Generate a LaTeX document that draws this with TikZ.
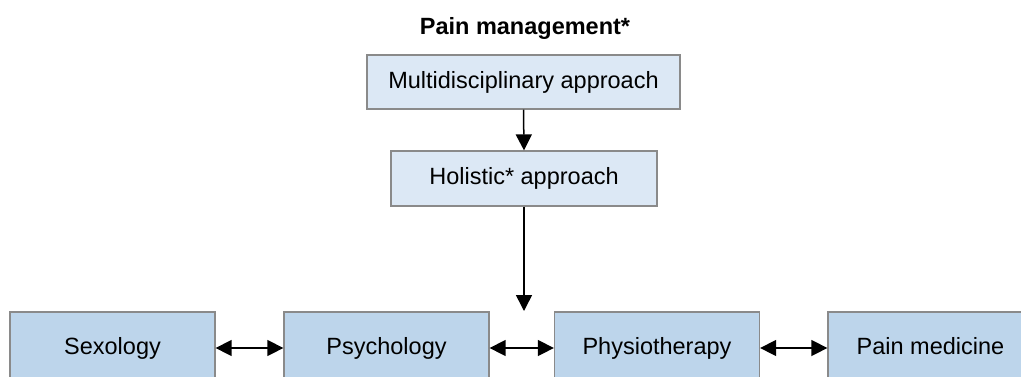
\documentclass[tikz,border=0pt]{standalone}
\usepackage{fontspec}
\setmainfont{Liberation Sans}
\usetikzlibrary{arrows.meta}
\definecolor{toplight}{HTML}{DCE8F5}
\definecolor{botblue}{HTML}{BDD5EB}
\definecolor{edgegray}{HTML}{8A8A8A}
\begin{document}
\begin{tikzpicture}[x=1pt,y=-1pt,
  every node/.style={font=\fontsize{23.5}{28}\selectfont, inner sep=0pt,
    text height=17pt, text depth=5pt},
  upperbox/.style={draw=edgegray, line width=1.3pt, fill=toplight},
  lowerbox/.style={draw=edgegray, line width=1.3pt, fill=botblue,
    minimum width=205pt, minimum height=72pt},
  tip/.style={Triangle[width=16pt,length=16pt]},
  link/.style={line width=1.5pt, -{Triangle[width=16pt,length=16pt]}},
  twoway/.style={line width=1.5pt, {Triangle[width=16pt,length=16pt]}-{Triangle[width=16pt,length=16pt]}}
]
\useasboundingbox (0,0) rectangle (1021,376);

\node[font=\bfseries\fontsize{23.5}{28}\selectfont] (title) at (525,28) {Pain management*};

\node[upperbox, minimum width=313pt, minimum height=54pt] (multi) at (523.5,82) {Multidisciplinary approach};
\node[upperbox, minimum width=266pt, minimum height=55pt] (holi) at (524,178.5) {Holistic* approach};

\node[lowerbox] (sex) at (112.5,348) {Sexology};
\node[lowerbox] (psy) at (386.5,348) {Psychology};
\node[lowerbox] (phy) at (657,348) {Physiotherapy};
\node[lowerbox] (med) at (930.5,348) {Pain medicine};

\coordinate (gap) at (524,311);

\draw[link] (multi.south) -- (holi.north);
\draw[link] (holi.south) -- (gap);
\draw[twoway] (sex) -- (psy);
\draw[twoway] (psy) -- (phy);
\draw[twoway] (phy) -- (med);
\end{tikzpicture}
\end{document}
